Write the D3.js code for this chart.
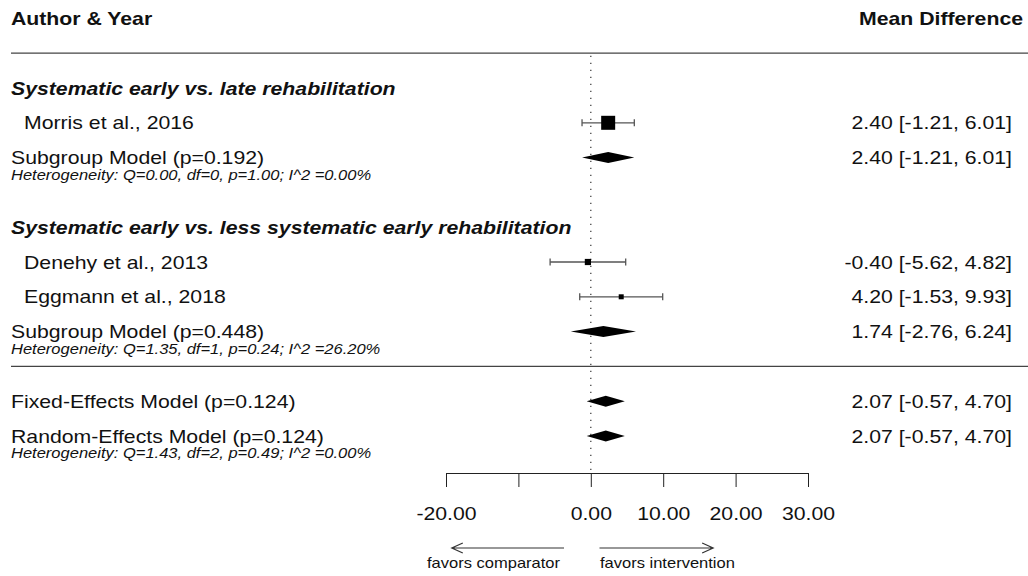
<!DOCTYPE html>
<html>
<head>
<meta charset="utf-8">
<script src="https://cdn.jsdelivr.net/npm/d3@7"></script>
<style>
  body { margin: 0; background: #fff; }
  text { font-family: "Liberation Sans", Arial, sans-serif; fill: #111; }
</style>
</head>
<body>
<script>
// study rows
const studyNames = ["Morris et al., 2016", "Denehy et al., 2013", "Eggmann et al., 2018"];
const studyRows = [1, 5, 6];
const studyEst = [2.40, -0.40, 4.20];
const studyLo = [-1.21, -5.62, -1.53];
const studyHi = [6.01, 4.82, 9.93];
const studyWeight = [53.3, 25.5, 21.2];

// pooled rows (diamonds)
const poolNames = ["Subgroup Model (p=0.192)", "Subgroup Model (p=0.448)", "Fixed-Effects Model (p=0.124)", "Random-Effects Model (p=0.124)"];
const poolRows = [2, 7, 9, 10];
const poolEst = [2.40, 1.74, 2.07, 2.07];
const poolLo = [-1.21, -2.76, -0.57, -0.57];
const poolHi = [6.01, 6.24, 4.70, 4.70];

const hetRows = [2, 7, 10];
const hetText = [
  "Heterogeneity: Q=0.00, df=0, p=1.00; I^2 =0.00%",
  "Heterogeneity: Q=1.35, df=1, p=0.24; I^2 =26.20%",
  "Heterogeneity: Q=1.43, df=2, p=0.49; I^2 =0.00%"
];

const groupTitles = ["Systematic early vs. late rehabilitation", "Systematic early vs. less systematic early rehabilitation"];
const groupRows = [0, 4];

const tickValues = [-20, -10, 0, 10, 20, 30];
const tickLabels = ["-20.00", "", "0.00", "10.00", "20.00", "30.00"];

const w = 1028, h = 576;
const stretch = 1.18;

const svg = d3.select("body").append("svg").attr("width", w).attr("height", h);

const xScale = d3.scaleLinear().domain([-20, 30]).range([446, 808]);
const yScale = d3.scaleLinear().domain([0, 10]).range([88, 436]);
const boxScale = d3.scaleLinear().domain([d3.min(studyWeight), d3.max(studyWeight)]).range([5, 14]);

function label(x, y, str, size, opts) {
  opts = opts || {};
  return svg.append("text")
    .attr("transform", "translate(" + x + "," + y + ") scale(" + stretch + ",1)")
    .attr("font-size", size)
    .attr("font-weight", opts.bold ? "bold" : "normal")
    .attr("font-style", opts.italic ? "italic" : "normal")
    .attr("text-anchor", opts.anchor || "start")
    .text(str);
}

//plain hyphen for negatives, like the original
const fmt = (v) => v.toFixed(2);
const ci = (e, l, u) => fmt(e) + " [" + fmt(l) + ", " + fmt(u) + "]";

// header
label(11, 25, "Author & Year", 18, {bold: true});
label(1023, 25, "Mean Difference", 18, {bold: true, anchor: "end"});

// separators
svg.append("line").attr("x1", 11).attr("x2", w).attr("y1", yScale(-1)).attr("y2", yScale(-1))
  .attr("stroke", "#444").attr("stroke-width", 1.3);
svg.append("line").attr("x1", 11).attr("x2", w).attr("y1", yScale(8)).attr("y2", yScale(8))
  .attr("stroke", "#444").attr("stroke-width", 1.3);

// reference line at 0
svg.append("line").attr("x1", xScale(0)).attr("x2", xScale(0))
  .attr("y1", yScale(-0.93)).attr("y2", yScale(11))
  .attr("stroke", "#444").attr("stroke-width", 1.3).attr("stroke-dasharray", "1.3,5.7");

// group titles
groupTitles.forEach((t, i) => label(11, yScale(groupRows[i]) + 6.5, t, 18, {bold: true, italic: true}));

// studies
studyNames.forEach((n, i) => {
  const y = yScale(studyRows[i]);
  label(24, y + 6.5, n, 18);
  label(1012, y + 6.5, ci(studyEst[i], studyLo[i], studyHi[i]), 18, {anchor: "end"});
  const g = svg.append("g").attr("stroke", "#555").attr("stroke-width", 1.3);
  g.append("line").attr("x1", xScale(studyLo[i])).attr("x2", xScale(studyHi[i])).attr("y1", y).attr("y2", y);
  g.append("line").attr("x1", xScale(studyLo[i])).attr("x2", xScale(studyLo[i])).attr("y1", y - 3.5).attr("y2", y + 3.5);
  g.append("line").attr("x1", xScale(studyHi[i])).attr("x2", xScale(studyHi[i])).attr("y1", y - 3.5).attr("y2", y + 3.5);
  const s = boxScale(studyWeight[i]);
  svg.append("rect").attr("x", xScale(studyEst[i]) - s / 2).attr("y", y - s / 2)
    .attr("width", s).attr("height", s).attr("fill", "#000");
});

// pooled diamonds
poolNames.forEach((n, i) => {
  const y = yScale(poolRows[i]);
  label(11, y + 6.5, n, 18);
  label(1012, y + 6.5, ci(poolEst[i], poolLo[i], poolHi[i]), 18, {anchor: "end"});
  const pts = [[xScale(poolLo[i]), y], [xScale(poolEst[i]), y - 5.5], [xScale(poolHi[i]), y], [xScale(poolEst[i]), y + 5.5]];
  svg.append("path").attr("d", "M" + pts.join("L") + "Z").attr("fill", "#000");
});

// heterogeneity notes
hetText.forEach((t, i) => label(11, yScale(hetRows[i]) + 22, t, 14, {italic: true}));

// x axis
const xAxis = d3.axisBottom(xScale).tickValues(tickValues)
  .tickFormat((d, i) => tickLabels[i]).tickSize(14).tickSizeOuter(0).tickPadding(20);
const ax = svg.append("g").attr("transform", "translate(0," + 473 + ")").call(xAxis);
ax.select(".domain").attr("stroke", "#222");
ax.selectAll(".tick line").attr("stroke", "#222");
ax.selectAll(".tick text").attr("font-size", 18).attr("fill", "#111")
  .attr("font-family", "Liberation Sans, Arial, sans-serif")
  .attr("transform", "scale(" + stretch + ",1)");

// favours arrows
const arrowFrom = [-3.7, 1.2];
const arrowTo = [-19.2, 16.9];
const arrowText = ["favors comparator", "favors intervention"];
arrowFrom.forEach((a, i) => {
  const x0 = xScale(a), x1 = xScale(arrowTo[i]), y = 548;
  const dir = x1 < x0 ? 1 : -1;
  svg.append("path")
    .attr("d", "M" + x0 + "," + y + "L" + x1 + "," + y + "M" + (x1 + dir * 11) + "," + (y - 5) + "L" + x1 + "," + y + "L" + (x1 + dir * 11) + "," + (y + 5))
    .attr("fill", "none").attr("stroke", "#333").attr("stroke-width", 1.2);
});
label(427, 568, arrowText[0], 14);
label(600, 568, arrowText[1], 14);
</script>
</body>
</html>
